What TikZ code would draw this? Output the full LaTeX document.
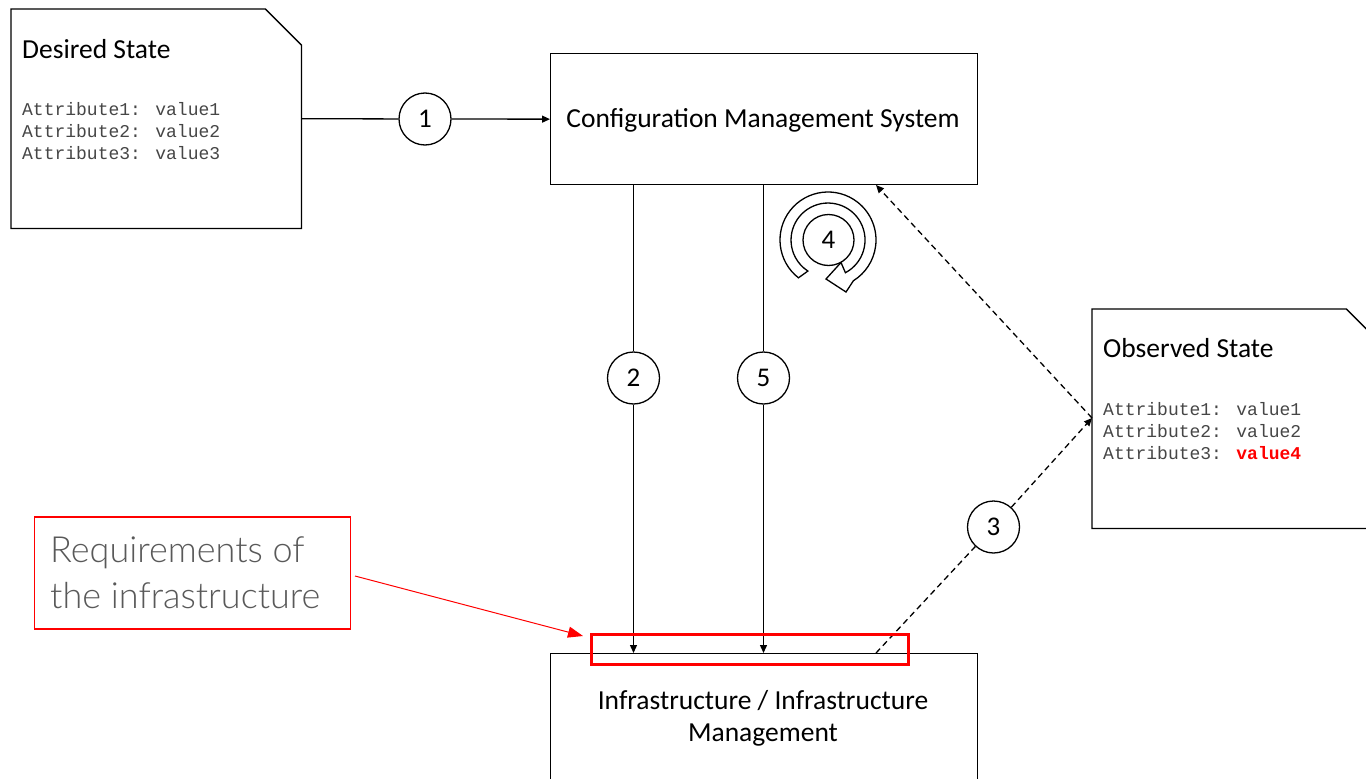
\documentclass[tikz,border=0pt]{standalone}
\usepackage{fontspec}
\setmainfont{Carlito}
\newfontfamily\monofont{Liberation Mono}
\newfontfamily\reqfont{Lato Light}
\usetikzlibrary{arrows.meta}
\definecolor{monogray}{RGB}{70,70,70}
\definecolor{reqgray}{RGB}{89,89,89}
\tikzset{
  thin line/.style={line width=1.3pt, draw=black},
  boxnode/.style={draw=black, line width=1.3pt, inner sep=0pt},
  numcirc/.style={circle, draw=black, line width=1.3pt, fill=white, minimum size=52pt, inner sep=0pt, font=\fontsize{27}{32}\selectfont},
  titletext/.style={anchor=base west, inner sep=0pt, font=\fontsize{27.5}{33}\selectfont},
  monotext/.style={anchor=base west, inner sep=0pt, text=monogray, font=\monofont\fontsize{18}{22}\selectfont},
  bigtext/.style={anchor=base, inner sep=0pt, font=\fontsize{27.5}{33}\selectfont},
  arr/.style={-{Triangle[length=8pt,width=7pt]}},
  dsh/.style={dash pattern=on 6pt off 4pt},
  reqtext/.style={anchor=base west, inner sep=0pt, text=reqgray, font=\reqfont\fontsize{36}{44}\selectfont},
}
\begin{document}
\begin{tikzpicture}[x=1pt,y=-1pt]
\useasboundingbox[fill=white] (0,0) rectangle (1366,779);

% Desired State note
\node[minimum width=290pt, minimum height=219pt, anchor=north west, inner sep=0pt] (desired) at (11,9) {};
\draw[thin line] (desired.north west) -- ([xshift=-36pt]desired.north east) -- ([yshift=-36pt]desired.north east) -- (desired.south east) -- (desired.south west) -- cycle;
\node[titletext] (dtitle) at (22,58) {Desired State};
\node[monotext] (da1) at (22,115) {Attribute1: value1};
\node[monotext] (da2) at (22,137) {Attribute2: value2};
\node[monotext] (da3) at (22,159) {Attribute3: value3};

% Observed State note
\node[minimum width=290pt, minimum height=219pt, anchor=north west, inner sep=0pt] (observed) at (1092,309) {};
\draw[thin line] (observed.north west) -- ([xshift=-36pt]observed.north east) -- ([yshift=-36pt]observed.north east) -- (observed.south east) -- (observed.south west) -- cycle;
\node[titletext] (otitle) at (1103,357) {Observed State};
\node[monotext] (oa1) at (1103,415) {Attribute1: value1};
\node[monotext] (oa2) at (1103,437) {Attribute2: value2};
\node[monotext] (oa3) at (1103,459) {Attribute3: \textcolor{red}{\bfseries value4}};

% CMS box
\node[boxnode, minimum width=427pt, minimum height=131pt, anchor=north west] (cms) at (550,53) {};
\node[bigtext] (cmstext) at (763,127) {Configuration Management System};

% Infrastructure box
\node[boxnode, minimum width=427pt, minimum height=160pt, anchor=north west] (infra) at (550,653) {};
\node[bigtext] (inft1) at (763,709) {Infrastructure / Infrastructure};
\node[bigtext] (inft2) at (763,741) {Management};

% numbered circles
\node[numcirc] (c1) at (425,119) {1};
\node[numcirc] (c2) at (633.5,378) {2};
\node[numcirc] (c5) at (763.5,378) {5};
\node[numcirc] (c3) at (993.5,527) {3};

% connector 1
\draw[thin line] (desired.east) -- (c1);
\draw[thin line, arr] (c1) -- (cms.west);

% connectors 2 and 5
\draw[thin line] (cms.south -| c2) -- (c2);
\draw[thin line, arr] (c2) -- (infra.north -| c2);
\draw[thin line] (cms.south -| c5) -- (c5);
\draw[thin line, arr] (c5) -- (infra.north -| c5);

% dashed connectors
\coordinate (i3) at (876,653);
\coordinate (obsin) at (1092,418);
\coordinate (cmsin) at (876,185);
\draw[thin line, dsh] (i3) -- (c3);
\draw[thin line, dsh, arr] (c3) -- (obsin);
\draw[thin line, dsh, arr] (obsin) -- (cmsin);

% cycle icon 4
\draw[thin line, fill=white, line join=miter] (128:48) ++(828,240)
  arc[start angle=128, end angle=418, radius=48]
  -- (846,292) -- (826,279) -- (841,262.5) -- (845.4,272.7)
  arc[start angle=422, end angle=123, radius=37] -- cycle;
\node[numcirc, minimum size=51pt] (c4) at (828.5,240) {4};

% red annotation
\node[draw=red, line width=3pt, minimum width=317pt, minimum height=30pt, anchor=north west, inner sep=0pt] (redbox) at (590,633) {};
\node[draw=red, line width=1.5pt, minimum width=316pt, minimum height=112pt, anchor=north west, inner sep=0pt] (reqbox) at (33.5,516) {};
\node[reqtext] (req1) at (50,562) {Requirements of};
\node[reqtext] (req2) at (50,608) {the infrastructure};
\coordinate (reqout) at (355,576);
\coordinate (redin) at (583,636);
\draw[red, line width=1pt, -{Triangle[length=15pt,width=11pt]}] (reqout) -- (redin);
\end{tikzpicture}
\end{document}
